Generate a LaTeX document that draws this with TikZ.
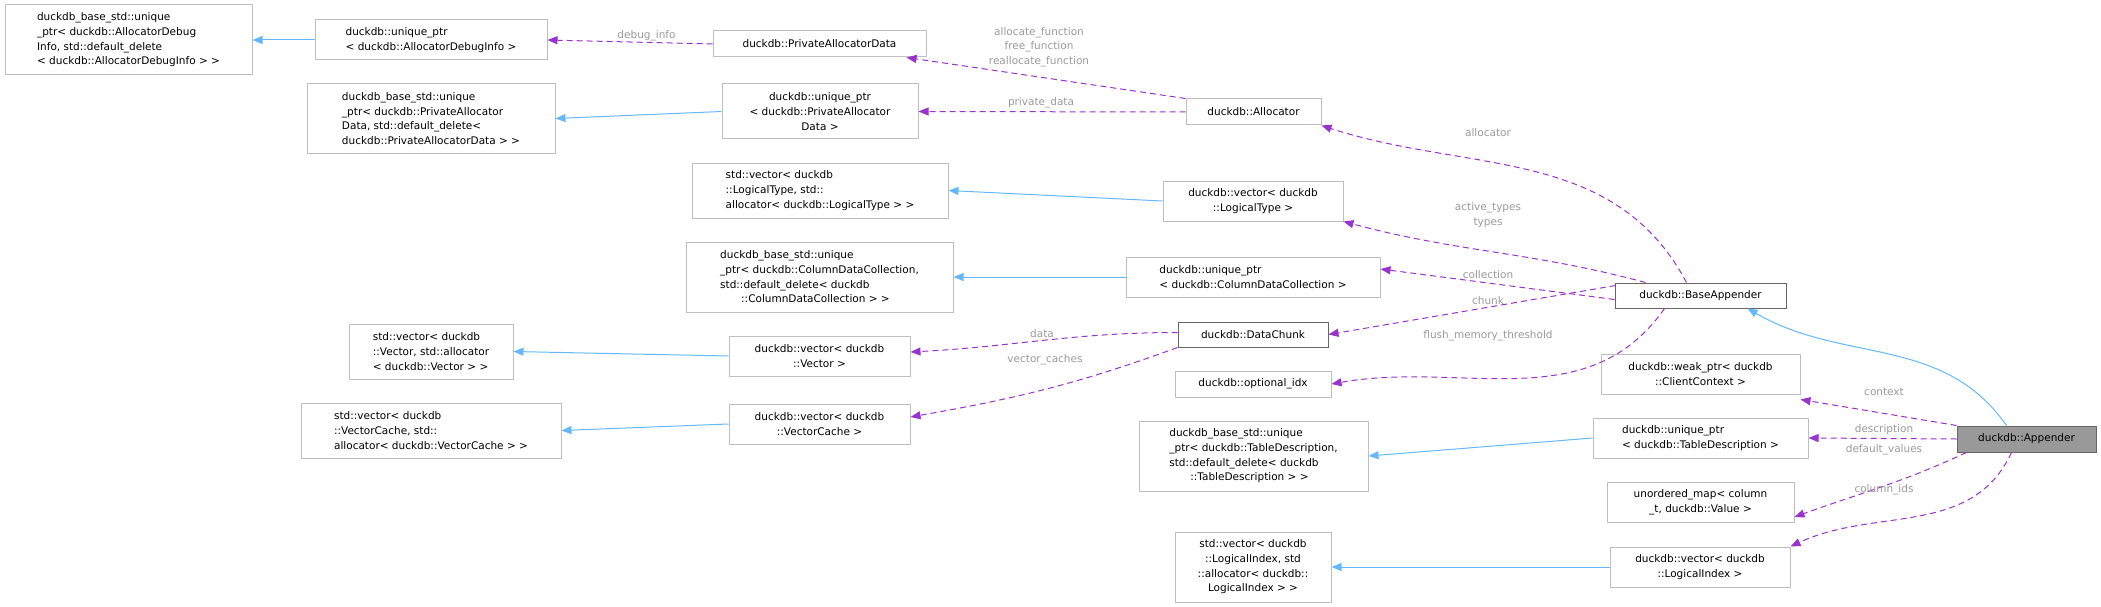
\documentclass[tikz,border=0pt]{standalone}
\usepackage{fontspec}
\setmainfont{DejaVu Sans}
\usetikzlibrary{arrows.meta}
\definecolor{boxc}{HTML}{BFBFBF}
\definecolor{darkb}{HTML}{666666}
\definecolor{purp}{HTML}{9A32CD}
\definecolor{blu}{HTML}{63B8FF}
\definecolor{lab}{HTML}{9A9A9A}
\begin{document}
\begin{tikzpicture}[x=1pt,y=-1pt,
  every node/.style={font=\fontsize{10.5}{14.7}\selectfont},
  box/.style={draw=boxc,line width=1pt,inner sep=0pt,align=center,fill=white},
  inh/.style={draw=blu,line width=1pt,-{Triangle[length=10pt,width=8pt]}},
  use/.style={draw=purp,line width=1pt,dash pattern=on 6pt off 4pt,-{Triangle[length=10pt,width=8pt]}},
  lbl/.style={text=lab,align=center,inner sep=0pt}]
\useasboundingbox (0,0) rectangle (2101,607);
\node[box,align=left,minimum width=247pt,minimum height=70pt] (a1) at (128.5,40) {duckdb\_base\_std::unique\\\_ptr< duckdb::AllocatorDebug\\Info, std::default\_delete\\< duckdb::AllocatorDebugInfo > >};
\node[box,align=left,minimum width=232pt,minimum height=40pt] (a2) at (431,40) {duckdb::unique\_ptr\\< duckdb::AllocatorDebugInfo >};
\node[box,minimum width=213pt,minimum height=26pt] (a3) at (819.5,44) {duckdb::PrivateAllocatorData};
\node[box,align=left,minimum width=248pt,minimum height=69pt] (a4) at (431,118.5) {duckdb\_base\_std::unique\\\_ptr< duckdb::PrivateAllocator\\Data, std::default\_delete<\\ duckdb::PrivateAllocatorData > >};
\node[box,minimum width=196pt,minimum height=55pt] (a5) at (820,111.5) {duckdb::unique\_ptr\\< duckdb::PrivateAllocator\\Data >};
\node[box,minimum width=135pt,minimum height=26pt] (alloc) at (1253.5,112) {duckdb::Allocator};
\node[box,align=left,minimum width=256pt,minimum height=55pt] (a7) at (820,190.5) {std::vector< duckdb\\::LogicalType, std::\\allocator< duckdb::LogicalType > >};
\node[box,minimum width=180pt,minimum height=40pt] (a8) at (1253,201) {duckdb::vector< duckdb\\::LogicalType >};
\node[box,align=left,minimum width=267pt,minimum height=70pt] (a9) at (819.5,277) {duckdb\_base\_std::unique\\\_ptr< duckdb::ColumnDataCollection,\\ std::default\_delete< duckdb\\\quad\quad ::ColumnDataCollection > >};
\node[box,align=left,minimum width=254pt,minimum height=40pt] (a10) at (1253,277) {duckdb::unique\_ptr\\< duckdb::ColumnDataCollection >};
\node[box,draw=darkb,minimum width=171pt,minimum height=25pt] (bapp) at (1700.5,295.5) {duckdb::BaseAppender};
\node[box,align=left,minimum width=164pt,minimum height=55pt] (vbase) at (431,351.5) {std::vector< duckdb\\::Vector, std::allocator\\< duckdb::Vector > >};
\node[box,align=left,minimum width=260pt,minimum height=55pt] (vcbase) at (431,430.5) {std::vector< duckdb\\::VectorCache, std::\\allocator< duckdb::VectorCache > >};
\node[box,minimum width=181pt,minimum height=40pt] (vv) at (819.5,356) {duckdb::vector< duckdb\\::Vector >};
\node[box,minimum width=181pt,minimum height=40pt] (vvc) at (819.5,424) {duckdb::vector< duckdb\\::VectorCache >};
\node[box,draw=darkb,minimum width=150pt,minimum height=25pt] (dchunk) at (1253,334.5) {duckdb::DataChunk};
\node[box,minimum width=156pt,minimum height=26pt] (optidx) at (1253,384) {duckdb::optional\_idx};
\node[box,minimum width=199pt,minimum height=40pt] (weak) at (1700.5,374) {duckdb::weak\_ptr< duckdb\\::ClientContext >};
\node[box,align=left,minimum width=215pt,minimum height=40pt] (utd) at (1700.5,438) {duckdb::unique\_ptr\\< duckdb::TableDescription >};
\node[box,align=left,minimum width=229pt,minimum height=70pt] (tdbase) at (1253.5,456) {duckdb\_base\_std::unique\\\_ptr< duckdb::TableDescription,\\ std::default\_delete< duckdb\\\quad\quad ::TableDescription > >};
\node[box,minimum width=187pt,minimum height=40pt] (umap) at (1700.5,502) {unordered\_map< column\\\_t, duckdb::Value >};
\node[box,minimum width=156pt,minimum height=70pt] (libase) at (1253,567) {std::vector< duckdb\\::LogicalIndex, std\\::allocator< duckdb::\\LogicalIndex > >};
\node[box,minimum width=180pt,minimum height=40pt] (vli) at (1700,567) {duckdb::vector< duckdb\\::LogicalIndex >};
\node[box,draw=darkb,fill=black!40,minimum width=139pt,minimum height=26pt] (app) at (2026.5,439) {duckdb::Appender};
% inheritance
\draw[inh] (a2.west) -- (a1.east);
\draw[inh] (a5.west) -- (a4.east);
\draw[inh] (a8.west) -- (a7.east);
\draw[inh] (a10.west) -- (a9.east);
\draw[inh] (vv.west) -- (vbase.east);
\draw[inh] (vvc.west) -- (vcbase.east);
\draw[inh] (utd.west) -- (tdbase.east);
\draw[inh] (vli.west) -- (libase.east);
\draw[inh] ([xshift=-20pt]app.north) to[out=125,in=-30] ([xshift=47pt]bapp.south);
% usage
\draw[use] (a3.west) -- node[lbl,above=1pt,pos=0.4]{debug\_info} (a2.east);
\draw[use] (alloc.north west) -- ([xshift=-20pt]a3.south east);
\draw[use] (alloc.west) -- (a5.east);
\draw[use] ([xshift=-14pt]bapp.north) to[out=118,in=-18] (alloc.south east);
\draw[use] ([xshift=-55pt]bapp.north) to[out=165,in=-15] (a8.south east);
\draw[use] ([yshift=-4pt]bapp.west) -- ([yshift=8pt]a10.east);
\draw[use] ([xshift=-85pt,yshift=-3pt]bapp.north) -- (dchunk.east);
\draw[use] ([xshift=-36pt]bapp.south) to[out=-125,in=10] (optidx.east);
\draw[use] ([yshift=2pt]dchunk.west) to[out=180,in=3] ([yshift=4pt]vv.east);
\draw[use] (dchunk.south west) to[out=-160,in=10] ([yshift=7pt]vvc.east);
\draw[use] (app.north west) -- ([yshift=-5pt]weak.south east);
\draw[use] (app.west) -- (utd.east);
\draw[use] ([xshift=10pt]app.south west) to[out=-155,in=20] ([yshift=-15pt]umap.east);
\draw[use] ([xshift=-15pt]app.south) to[out=-115,in=25] (vli.north east);
% labels
\node[lbl] (l1) at (1039,47) {allocate\_function\\free\_function\\reallocate\_function};
\node[lbl] (l2) at (1041,103) {private\_data};
\node[lbl] (l3) at (1488,133) {allocator};
\node[lbl] (l4) at (1488,215) {active\_types\\types};
\node[lbl] (l5) at (1488,275) {collection};
\node[lbl] (l6) at (1488,301) {chunk};
\node[lbl] (l7) at (1488,336) {flush\_memory\_threshold};
\node[lbl] (l8) at (1042,334) {data};
\node[lbl] (l9) at (1045,360) {vector\_caches};
\node[lbl] (l10) at (1884,392) {context};
\node[lbl] (l11) at (1884,430) {description};
\node[lbl] (l12) at (1884,450) {default\_values};
\node[lbl] (l13) at (1884,490) {column\_ids};
\end{tikzpicture}
\end{document}
